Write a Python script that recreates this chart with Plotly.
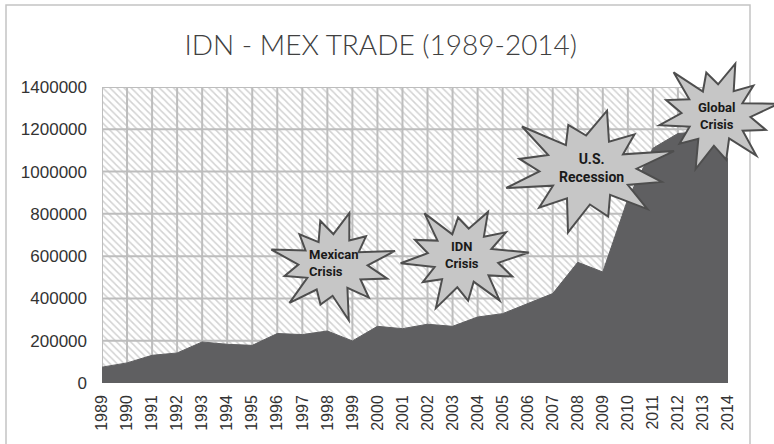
import math
import plotly.graph_objects as go

# ---- data ----
years = list(range(1989, 2015))
trade = [75000, 95000, 131000, 142000, 194000, 183000, 178000, 234000, 229000, 246000,
         199000, 268000, 257000, 278000, 268000, 312000, 328000, 375000, 423000, 571000,
         525000, 870000, 1110000, 1180000, 1190000, 1060000]
y_ticks = [0, 200000, 400000, 600000, 800000, 1000000, 1200000, 1400000]
title_text = "IDN - MEX TRADE (1989-2014)"
crises = ["Mexican<br>Crisis", "IDN<br>Crisis", "U.S.<br>Recession", "Global<br>Crisis"]

# ---- layout geometry (pixels) ----
W, H = 774, 444
ML, MR, MT, MB = 102, 46, 87, 61
PW, PH = W - ML - MR, H - MT - MB


def paper(px, py):
    return (px - ML) / PW, (H - MB - py) / PH


def star_path(rx, ry, factors, inner=0.5, rot=0.0):
    n = len(factors)
    pts = []
    for i in range(2 * n):
        a = rot + i * math.pi / n
        if i % 2 == 0:
            r = factors[i // 2]
        else:
            r = inner * (0.92 + 0.08 * ((i // 2) % 3))
        pts.append((r * rx * math.cos(a), r * ry * math.sin(a)))
    d = "M " + " L ".join(f"{x:.1f},{y:.1f}" for x, y in pts) + " Z"
    return d


fig = go.Figure()

x0, x1 = years[0], years[-1]
y0, y1 = y_ticks[0], y_ticks[-1]

# hatched plot background
fig.add_trace(go.Scatter(
    x=[x0, x1, x1, x0, x0], y=[y0, y0, y1, y1, y0], mode="lines", fill="toself",
    line=dict(width=0), fillcolor="white",
    fillpattern=dict(shape="\\", size=5, solidity=0.3, fgcolor="#a6a6a6", bgcolor="white"),
    hoverinfo="skip", showlegend=False))

# gridlines
gx, gy = [], []
for yr in years:
    gx += [yr, yr, None]
    gy += [y0, y1, None]
for t in y_ticks:
    gx += [x0, x1, None]
    gy += [t, t, None]
fig.add_trace(go.Scatter(x=gx, y=gy, mode="lines", line=dict(color="#bdbdbd", width=2),
                         hoverinfo="skip", showlegend=False))

# trade area
fig.add_trace(go.Scatter(x=years, y=trade, mode="lines", fill="tozeroy",
                         fillcolor="#5f5f61", line=dict(color="#5f5f61", width=1),
                         showlegend=False))

shapes = []
# outer frame
fx0, fy1 = paper(6, 5)
fx1, fy0 = paper(750, 470)
shapes.append(dict(type="rect", xref="paper", yref="paper", x0=fx0, x1=fx1, y0=fy0, y1=fy1,
                   line=dict(color="#c4c4c4", width=1.5), fillcolor="rgba(0,0,0,0)", layer="below"))

stars = [
    # center px, py, rx, ry, spike factors, rotation
    ((333, 265), 64, 57, [1.0, 0.72, 0.95, 0.8, 0.75, 1.0, 0.78, 0.95, 0.72, 1.0, 0.8, 0.88], 0.25),
    ((463, 258), 66, 55, [1.0, 0.8, 0.92, 0.74, 1.0, 0.8, 0.95, 0.75, 1.0, 0.78, 0.95, 0.82], 0.1),
    ((588, 170), 90, 64, [1.0, 0.76, 0.95, 0.74, 1.0, 0.78, 0.95, 0.8, 1.0, 0.76, 0.9, 0.84], 0.3),
    ((716, 115), 64, 57, [1.0, 0.78, 0.95, 0.76, 1.0, 0.82, 0.9, 0.76, 1.0, 0.8, 0.95, 0.82], 0.2),
]
text_pos = [(333, 263), (462, 255), (591, 168), (716, 116)]
text_size = [13, 13, 14, 13]
aligns = ["left", "center", "center", "center"]

annotations = []
for (c, rx, ry, fac, rot), lbl, tp, ts, al in zip(stars, crises, text_pos, text_size, aligns):
    ax, ay = paper(*c)
    shapes.append(dict(type="path", xref="paper", yref="paper", xsizemode="pixel", ysizemode="pixel",
                       xanchor=ax, yanchor=ay, path=star_path(rx, ry, fac, rot=rot),
                       fillcolor="#c6c6c6", line=dict(color="#4e4e4e", width=2), layer="above"))
    tx, ty = paper(*tp)
    annotations.append(dict(xref="paper", yref="paper", x=tx, y=ty, xanchor="center", yanchor="middle",
                            text=f"<b>{lbl}</b>", showarrow=False,
                            align=al, font=dict(family="Roboto", size=ts, color="#1a1a1a")))

fig.update_layout(
    width=W, height=H,
    margin=dict(l=ML, r=MR, t=MT, b=MB, pad=0),
    paper_bgcolor="white", plot_bgcolor="white",
    title=dict(text=title_text, x=0.492, xanchor="center", y=1 - 45 / H, yanchor="middle",
               font=dict(family="Lato", size=28, color="#404040", weight=300)),
    xaxis=dict(range=[x0, x1], tickvals=years, ticktext=[str(y) for y in years], tickangle=-90,
               showgrid=False, zeroline=False, showline=False, ticks="", ticklabelstandoff=8,
               tickfont=dict(family="Liberation Sans", size=16, color="#333333")),
    yaxis=dict(range=[y0, y1], tickvals=y_ticks, ticktext=[str(v) for v in y_ticks],
               showgrid=False, zeroline=False, showline=False, ticks="", ticklabelstandoff=14,
               tickfont=dict(family="Liberation Sans", size=17, color="#333333")),
    shapes=shapes, annotations=annotations,
)

fig.write_html("out.html", config={"displayModeBar": False},
               post_script="document.body.style.margin='0';")
